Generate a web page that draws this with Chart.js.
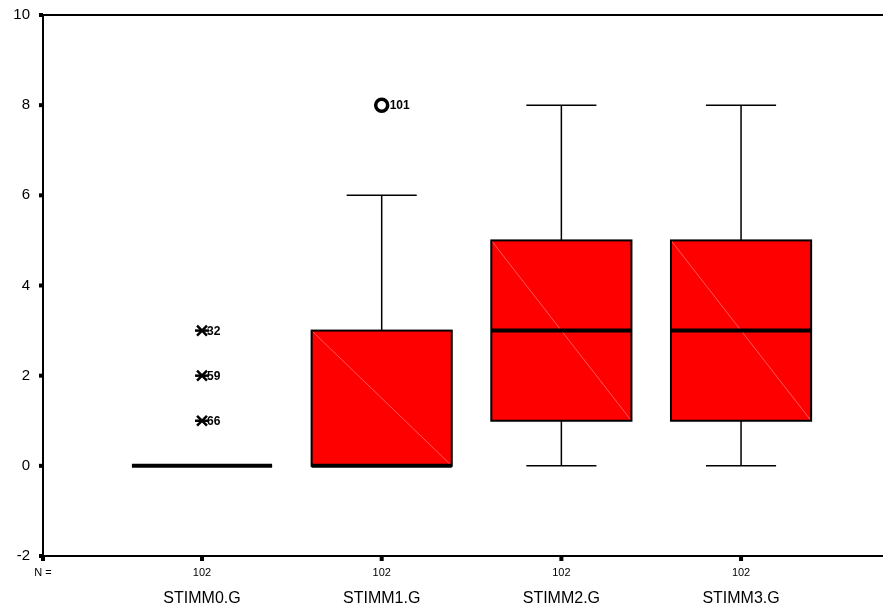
<!DOCTYPE html>
<html>
<head>
<meta charset="utf-8">
<script src="https://cdn.jsdelivr.net/npm/chart.js@4/dist/chart.umd.min.js"></script>
<style>
  html, body { margin: 0; padding: 0; background: #fff; }
  canvas { display: block; }
</style>
</head>
<body>
<canvas id="chart" width="883" height="612"></canvas>
<script>
// box plot values
const categories = ["STIMM0.G", "STIMM1.G", "STIMM2.G", "STIMM3.G"];
const counts = [102, 102, 102, 102];
const whiskerLow = [0, 0, 0, 0];
const q1 = [0, 0, 1, 1];
const median = [0, 0, 3, 3];
const q3 = [0, 3, 5, 5];
const whiskerHigh = [0, 6, 8, 8];

// outliers: group (1-based), value, case label, kind
const outlierGroup = [1, 1, 1, 2];
const outlierValue = [3, 2, 1, 8];
const outlierCase = ["32", "59", "66", "101"];
const outlierKind = ["extreme", "extreme", "extreme", "outlier"];

const yTicks = [-2, 0, 2, 4, 6, 8, 10];
const FONT = "Arial, 'Liberation Sans', sans-serif";

const BOX_HALF = 0.39;
const CAP_HALF = 0.195;

const boxPlugin = {
  id: "boxes",
  beforeDatasetsDraw(chart) {
    const { ctx, scales: { x, y } } = chart;
    ctx.save();
    categories.forEach((c, i) => {
      const cx = x.getPixelForValue(i + 1);
      const l = x.getPixelForValue(i + 1 - BOX_HALF);
      const r = x.getPixelForValue(i + 1 + BOX_HALF);
      const cl = x.getPixelForValue(i + 1 - CAP_HALF);
      const cr = x.getPixelForValue(i + 1 + CAP_HALF);
      const yT = y.getPixelForValue(q3[i]);
      const yB = y.getPixelForValue(q1[i]);
      const yM = y.getPixelForValue(median[i]);
      const yHi = y.getPixelForValue(whiskerHigh[i]);
      const yLo = y.getPixelForValue(whiskerLow[i]);

      // whiskers
      ctx.strokeStyle = "#000";
      ctx.lineWidth = 1.5;
      ctx.beginPath();
      ctx.moveTo(cx, yT); ctx.lineTo(cx, yHi);
      ctx.moveTo(cx, yB); ctx.lineTo(cx, yLo);
      ctx.moveTo(cl, yHi); ctx.lineTo(cr, yHi);
      ctx.moveTo(cl, yLo); ctx.lineTo(cr, yLo);
      ctx.stroke();

      // box
      if (yB - yT > 0) {
        ctx.fillStyle = "#ff0000";
        ctx.fillRect(l, yT, r - l, yB - yT);
        ctx.strokeStyle = "#ff7070";
        ctx.lineWidth = 0.8;
        ctx.beginPath();
        ctx.moveTo(l, yT); ctx.lineTo(r, yB);
        ctx.stroke();
      }
      ctx.strokeStyle = "#000";
      ctx.lineWidth = 2;
      ctx.strokeRect(l, yT, r - l, yB - yT);

      // median
      ctx.lineWidth = 4;
      ctx.beginPath();
      ctx.moveTo(l, yM); ctx.lineTo(r, yM);
      ctx.stroke();
    });
    ctx.restore();
  },
  afterDatasetsDraw(chart) {
    const { ctx, scales: { x, y } } = chart;
    ctx.save();
    ctx.fillStyle = "#000";
    ctx.font = "bold 12px " + FONT;
    ctx.textAlign = "left";
    ctx.textBaseline = "middle";
    outlierGroup.forEach((g, i) => {
      const px = x.getPixelForValue(g);
      const py = y.getPixelForValue(outlierValue[i]);
      ctx.fillText(outlierCase[i], px + (outlierKind[i] === "outlier" ? 8 : 5), py + 1);
    });
    ctx.restore();
  },
  afterDraw(chart) {
    const { ctx, chartArea: a, scales: { x, y } } = chart;
    ctx.save();
    ctx.strokeStyle = "#000";
    ctx.lineWidth = 2;
    ctx.beginPath();
    ctx.moveTo(a.right, a.top); ctx.lineTo(a.left, a.top);
    ctx.lineTo(a.left, a.bottom); ctx.lineTo(a.right, a.bottom);
    ctx.stroke();

    ctx.fillStyle = "#000";
    // y ticks
    ctx.font = "15px " + FONT;
    ctx.textAlign = "right";
    ctx.textBaseline = "middle";
    yTicks.forEach((t) => {
      const py = y.getPixelForValue(t);
      ctx.fillRect(a.left - 4, py - 2, 4, 4);
      ctx.fillText(String(t), a.left - 13, py);
    });

    // x ticks, N and category labels
    ctx.fillRect(a.left - 2, a.bottom, 4, 5);
    ctx.textAlign = "center";
    ctx.font = "11px " + FONT;
    ctx.fillText("N =", a.left, a.bottom + 17);
    categories.forEach((c, i) => {
      const px = x.getPixelForValue(i + 1);
      ctx.fillRect(px - 2, a.bottom + 1, 4, 4);
      ctx.font = "11px " + FONT;
      ctx.fillText(String(counts[i]), px, a.bottom + 17);
      ctx.font = "16px " + FONT;
      ctx.fillText(c, px, a.bottom + 43);
    });
    ctx.restore();
  }
};

const extremePts = [];
const outlierPts = [];
outlierGroup.forEach((g, i) => {
  const p = { x: g, y: outlierValue[i] };
  (outlierKind[i] === "outlier" ? outlierPts : extremePts).push(p);
});

new Chart(document.getElementById("chart"), {
  type: "scatter",
  data: {
    datasets: [
      {
        data: extremePts,
        pointStyle: "crossRot",
        pointRadius: 7,
        borderColor: "#000",
        borderWidth: 2.5
      },
      {
        data: extremePts,
        pointStyle: "line",
        pointRadius: 7,
        borderColor: "#000",
        borderWidth: 2.5
      },
      {
        data: outlierPts,
        pointStyle: "circle",
        pointRadius: 6,
        backgroundColor: "rgba(0,0,0,0)",
        borderColor: "#000",
        borderWidth: 3.5
      }
    ]
  },
  options: {
    responsive: false,
    animation: false,
    events: [],
    layout: { autoPadding: false, padding: { left: 43, top: 15, right: 0, bottom: 56 } },
    plugins: { legend: { display: false }, tooltip: { enabled: false } },
    scales: {
      x: { type: "linear", min: 0.115, max: 4.79, display: false },
      y: { type: "linear", min: -2, max: 10, display: false }
    }
  },
  plugins: [boxPlugin]
});
</script>
</body>
</html>
